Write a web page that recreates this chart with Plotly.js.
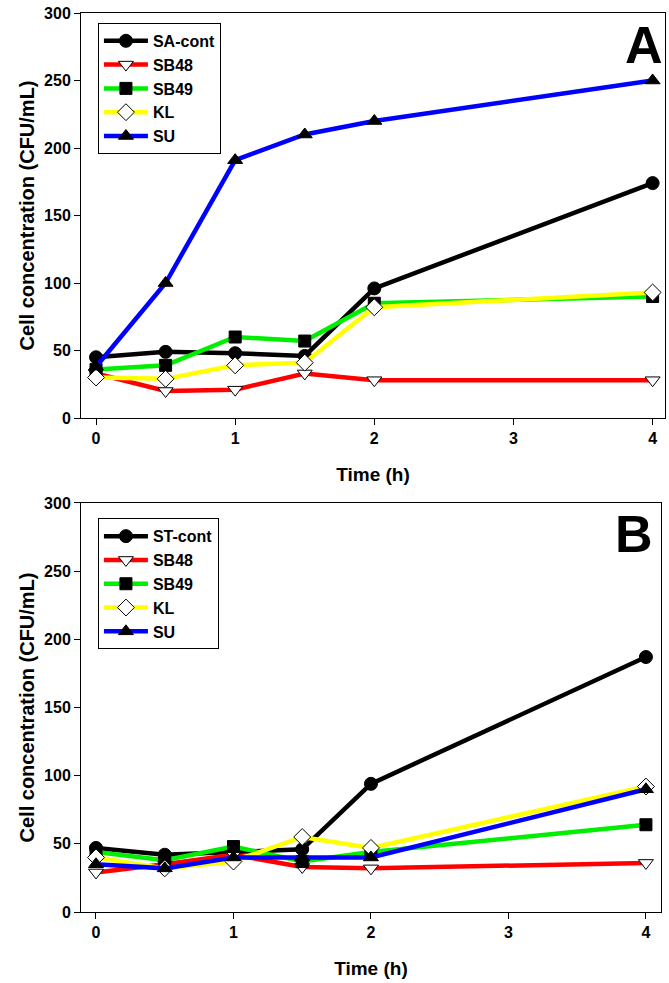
<!DOCTYPE html>
<html><head><meta charset="utf-8">
<script src="https://cdn.plot.ly/plotly-3.0.1.min.js"></script>
<style>html,body{margin:0;padding:0;background:#fff}#chart{width:669px;height:983px}</style>
</head><body><div id="chart"></div>
<script>
const timeH = [0, 0.5, 1, 1.5, 2, 4];
const xTicks = [0, 1, 2, 3, 4];
const yTicks = [0, 50, 100, 150, 200, 250, 300];

// Panel A
const namesA = ['SA-cont', 'SB48', 'SB49', 'KL', 'SU'];
const A_SAcont = [45, 49, 48, 46, 96, 174];
const A_SB48   = [33, 20, 21, 33, 28, 28];
const A_SB49   = [36, 39, 60, 57, 85, 90];
const A_KL     = [30, 29, 39, 41, 82, 93];
const A_SU     = [38, 100, 191, 210, 220, 250];

// Panel B
const namesB = ['ST-cont', 'SB48', 'SB49', 'KL', 'SU'];
const B_STcont = [47, 42, 44, 46, 94, 187];
const B_SB48   = [29, 35, 42, 33, 32, 36];
const B_SB49   = [44, 38, 48, 37, 44, 64];
const B_KL     = [40, 32, 37, 55, 47, 92];
const B_SU     = [35, 32, 40, 40, 40, 90];

const lineColors = ['#000000', '#ff0000', '#00ee00', '#ffff00', '#0000ff'];
const symbols = ['circle', 'triangle-down', 'square', 'diamond', 'triangle-up'];
const fills = ['#000000', '#ffffff', '#000000', '#ffffff', '#000000'];
const sizes = [13, 13, 12, 13, 13];

const FONT = 'Liberation Sans, Arial, sans-serif';
const traces = [];
function addPanel(names, series, xa, ya, leg) {
  series.forEach((vals, i) => {
    traces.push({
      x: timeH, y: vals, name: names[i], type: 'scatter', mode: 'lines+markers',
      xaxis: xa, yaxis: ya, legend: leg,
      line: {color: lineColors[i], width: 4.5},
      marker: {symbol: symbols[i], size: sizes[i], color: fills[i], line: {color: '#000', width: 1}}
    });
  });
}
addPanel(namesA, [A_SAcont, A_SB48, A_SB49, A_KL, A_SU], 'x', 'y', 'legend');
addPanel(namesB, [B_STcont, B_SB48, B_SB49, B_KL, B_SU], 'x2', 'y2', 'legend2');

const tickFont = {family: FONT, size: 16, color: '#000', weight: 'bold'};
const xTitleFont = {family: FONT, size: 19, color: '#000', weight: 'bold'};
const yTitleFont = {family: FONT, size: 20, color: '#000', weight: 'bold'};
function xax(domain, range, anchor) {
  return {domain: domain, range: range, anchor: anchor, tickvals: xTicks, ticks: 'outside', ticklen: 6,
    tickcolor: '#000', showline: true, linecolor: '#000', linewidth: 1, mirror: true, showgrid: false,
    zeroline: false, tickfont: tickFont, title: {text: 'Time (h)', font: xTitleFont, standoff: 21}};
}
function yax(domain, anchor) {
  return {domain: domain, range: [0, 300], anchor: anchor, tickvals: yTicks, ticks: 'outside', ticklen: 6,
    tickcolor: '#000', showline: true, linecolor: '#000', linewidth: 1, mirror: true, showgrid: false,
    zeroline: false, tickfont: tickFont, title: {text: 'Cell concentration (CFU/mL)', font: yTitleFont, standoff: 4}};
}
const legendStyle = (y) => ({x: 0.029, xanchor: 'left', y: y, yanchor: 'top', bordercolor: '#000', borderwidth: 1,
  bgcolor: '#fff', font: {family: FONT, size: 16, color: '#000', weight: 'bold'}, tracegroupgap: 0, itemwidth: 44});

const layout = {
  width: 669, height: 983, showlegend: true,
  margin: {l: 81, r: 4, t: 13, b: 71},
  paper_bgcolor: '#fff', plot_bgcolor: '#fff',
  xaxis: xax([0, 1], [-0.108, 4.089], 'y'),
  yaxis: yax([0.5495, 1], 'x'),
  xaxis2: xax([0, 0.993], [-0.109, 4.109], 'y2'),
  yaxis2: yax([0, 0.455], 'x2'),
  legend: legendStyle(0.989),
  legend2: legendStyle(0.438),
  annotations: [
    {text: 'A', xref: 'x domain', yref: 'y domain', x: 1.0, y: 0.998, xanchor: 'right', yanchor: 'top',
     showarrow: false, font: {family: FONT, size: 52, color: '#000', weight: 'bold'}},
    {text: 'B', xref: 'x2 domain', yref: 'y2 domain', x: 0.99, y: 1.0, xanchor: 'right', yanchor: 'top',
     showarrow: false, font: {family: FONT, size: 52, color: '#000', weight: 'bold'}}
  ]
};
Plotly.newPlot('chart', traces, layout, {displayModeBar: false, staticPlot: true});
</script></body></html>
